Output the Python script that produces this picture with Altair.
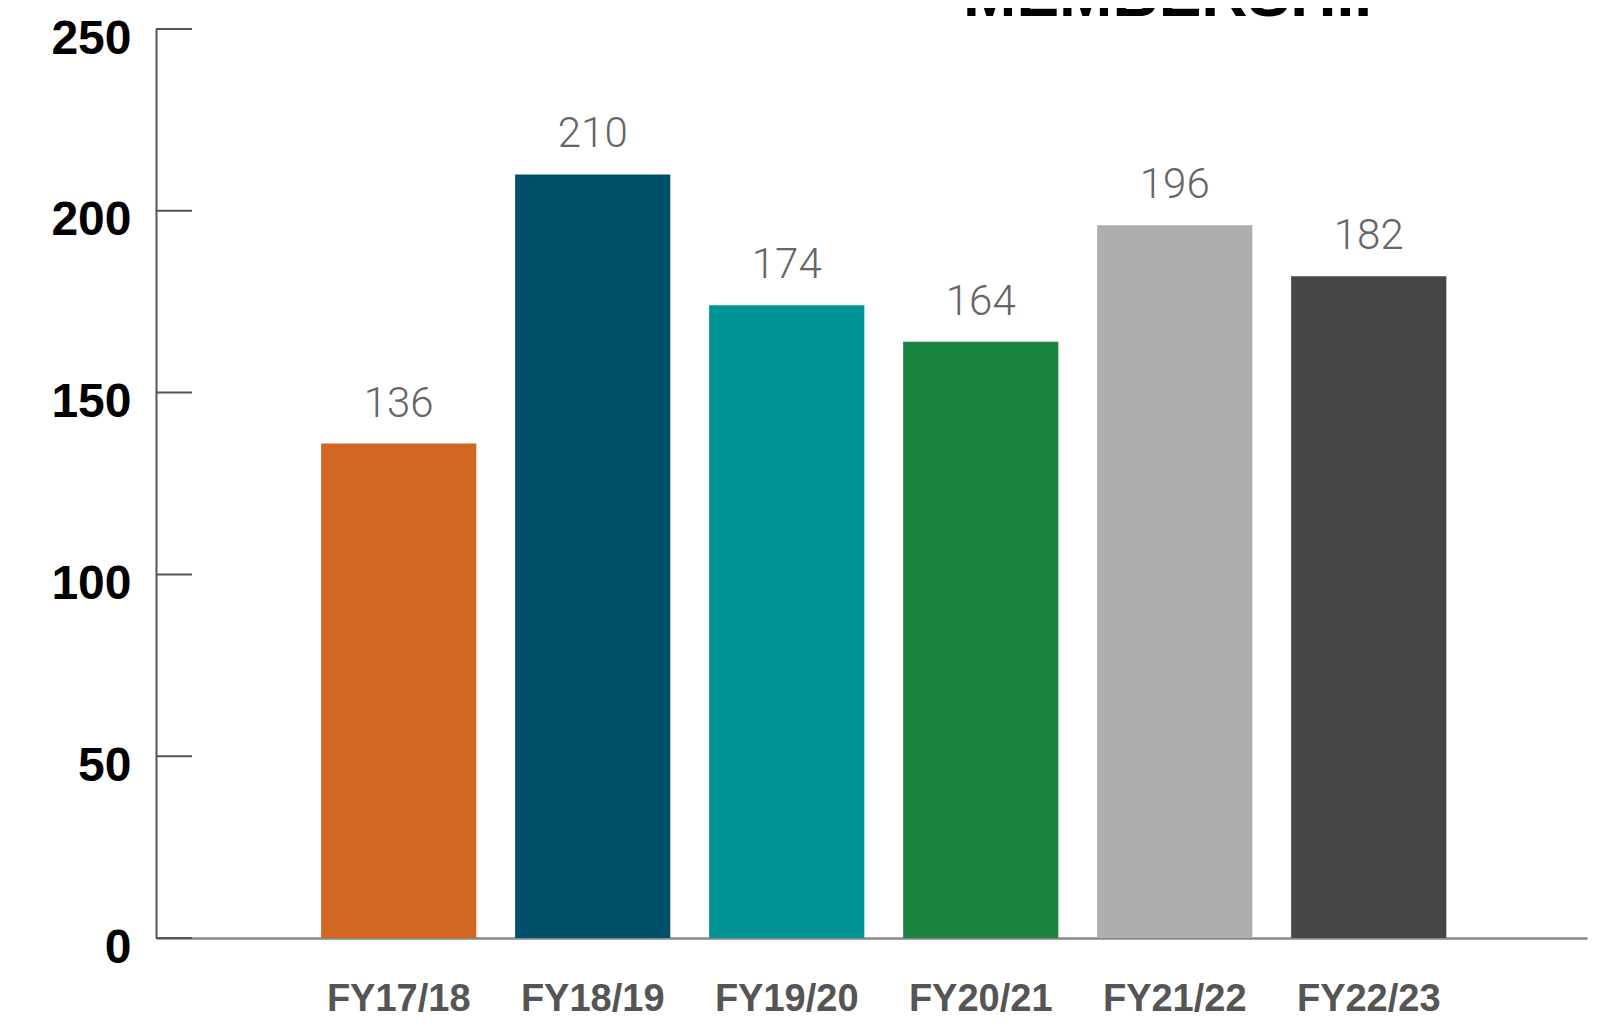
import altair as alt
import pandas as pd

categories = ["FY17/18", "FY18/19", "FY19/20", "FY20/21", "FY21/22", "FY22/23"]
values = [136, 210, 174, 164, 196, 182]
bar_colors = ["#D26724", "#00506A", "#009494", "#1B8440", "#ADAEB0", "#464547"]
y_ticks = [0, 50, 100, 150, 200, 250]
title_text = "MEMBERSHIP"

df = pd.DataFrame({"year": categories, "members": values, "color": bar_colors})
ticks_df = pd.DataFrame({"v": y_ticks})
title_df = pd.DataFrame({"t": [title_text]})

x_enc = alt.X(
    "year:N",
    sort=categories,
    scale=alt.Scale(paddingInner=0.2, paddingOuter=0.788, align=0.54),
    axis=alt.Axis(
        title=None, labelAngle=0, ticks=False, labelPadding=42, labelBaseline="top",
        labelFont="Liberation Sans", labelFontSize=38, labelFontWeight="bold",
        labelColor="#555555", labelLimit=0, labelOverlap=False,
        domainColor="#888888", domainWidth=2.5, grid=False,
    ),
)
y_enc = alt.Y(
    "members:Q",
    scale=alt.Scale(domain=[0, 250], nice=False),
    axis=alt.Axis(
        title=None, values=y_ticks, ticks=False, grid=False,
        labelFont="Liberation Sans", labelFontWeight="bold", labelFontSize=48,
        labelColor="#000000", labelPadding=25, labelOffset=10, labelFlush=False,
        labelOverlap=False, domainColor="#555555", domainWidth=2,
    ),
)

bars = alt.Chart(df).mark_bar().encode(
    x=x_enc, y=y_enc, color=alt.Color("color:N", scale=None, legend=None)
)

labels = alt.Chart(df).mark_text(
    dy=-18, baseline="bottom", font="Roboto", fontSize=42, fontWeight=300, color="#666666"
).encode(x=alt.X("year:N", sort=categories), y="members:Q", text="members:Q")

tick_rules = alt.Chart(ticks_df).mark_rule(color="#555555", strokeWidth=2).encode(
    y="v:Q", x=alt.value(0), x2=alt.value(36)
)

title = alt.Chart(title_df).mark_text(
    font="Liberation Sans", fontSize=64, fontWeight="bold", color="#000000",
    baseline="alphabetic", align="center",
).encode(text="t:N", x=alt.value(1024), y=alt.value(-13))

chart = alt.layer(bars, labels, tick_rules, title).properties(
    width=1431,
    height=909,
    autosize=alt.AutoSizeParams(type="none"),
    padding={"left": 148, "top": 21, "right": 5, "bottom": 88},
).configure_view(stroke=None)

chart.save("out.html", embed_options={"renderer": "svg", "actions": False})
